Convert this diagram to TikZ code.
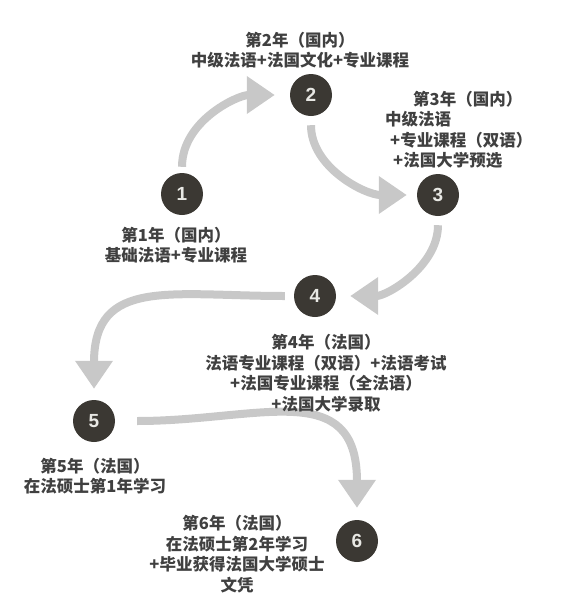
\documentclass[tikz,border=0pt]{standalone}
\usepackage{fontspec}
\setmainfont{Noto Sans CJK SC}
\setsansfont{Liberation Sans}
\usepackage{xcolor}
\usetikzlibrary{arrows.meta}
\definecolor{stepDark}{RGB}{59,56,51}
\definecolor{stepDigit}{RGB}{232,232,228}
\definecolor{flowGray}{RGB}{200,200,200}
\definecolor{labelInk}{RGB}{64,64,64}

\begin{document}
\begin{tikzpicture}[x=1pt,y=-1pt,
  yearDot/.style={circle,fill=stepDark,minimum size=42pt,inner sep=0pt,font=\sffamily\bfseries\fontsize{19}{19}\selectfont\color{stepDigit}},
  yearText/.style={inner sep=0pt,align=center,font=\bfseries\fontsize{16.5}{20.5}\selectfont\color{labelInk}},
  flowArrow/.style={draw=flowGray,line width=8pt,-{Triangle[length=28pt,width=36pt]}}]
\useasboundingbox (0,0) rectangle (567,614);
\node[yearDot] (n1) at (182,194) {1};
\node[yearDot] (n2) at (311,95) {2};
\node[yearDot] (n3) at (438,195) {3};
\node[yearDot] (n4) at (315,296) {4};
\node[yearDot] (n5) at (94,421) {5};
\node[yearDot] (n6) at (357,541) {6};
\draw[flowArrow,shorten <=6pt,shorten >=15pt] (n1) to[out=90,in=180] (n2);
\draw[flowArrow,shorten <=9pt,shorten >=10pt] (n2) to[out=-90,in=180] (n3);
\draw[flowArrow,shorten <=9pt,shorten >=14pt] (n3) to[out=-90,in=0] (n4);
\draw[flowArrow,shorten <=9pt,shorten >=11pt] (n4) to[out=180,in=90,looseness=1.4] (n5);
\draw[flowArrow,shorten <=22pt,shorten >=12pt] (n5) to[out=0,in=90,looseness=1.4] (n6);
\node[yearText] (t1) at (176,245) {第1年（国内）\\基础法语+专业课程};
\node[yearText] (t2) at (300,50) {第2年（国内）\\中级法语+法国文化+专业课程};
\node[yearText,align=left,anchor=west] (t3) at (385,130) {\hspace*{28pt}第3年（国内）\\中级法语\\\hspace*{5pt}+专业课程（双语）\\\hspace*{8pt}+法国大学预选};
\node[yearText] (t4) at (326,373) {第4年（法国）\\法语专业课程（双语）+法语考试\\+法国专业课程（全法语）\\+法国大学录取};
\node[yearText] (t5) at (95,476) {第5年（法国）\\在法硕士第1年学习};
\node[yearText] (t6) at (237,554) {第6年（法国）\\在法硕士第2年学习\\+毕业获得法国大学硕士\\文凭};
\end{tikzpicture}
\end{document}
